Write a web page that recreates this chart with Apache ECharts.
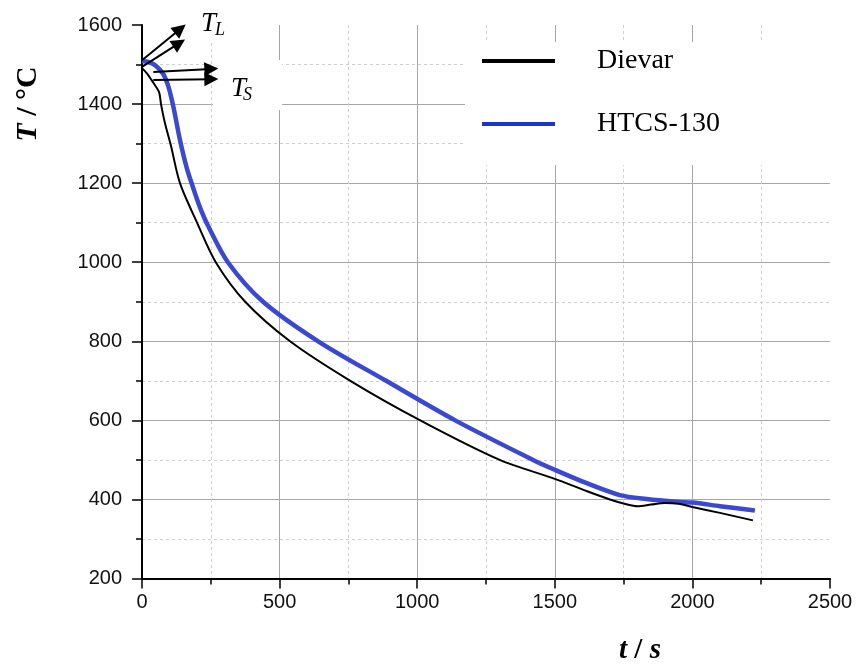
<!DOCTYPE html>
<html><head><meta charset="utf-8">
<script src="https://cdn.jsdelivr.net/npm/echarts@6/dist/echarts.min.js"></script>
<style>html,body{margin:0;padding:0;background:#fff}#c{width:860px;height:670px}</style>
</head><body><div id="c"></div>
<script>
// ---- data ----
const seriesNames = ['Dievar', 'HTCS-130'];
const dievarTime = [0, 20, 40, 62, 69, 84, 105, 138, 200, 268, 375, 538, 757, 1011, 1300, 1500, 1620, 1700, 1760, 1800, 1850, 1900, 1950, 2000, 2100, 2220];
const dievarTemp = [1491, 1476, 1455, 1430, 1400, 1350, 1295, 1200, 1100, 1000, 900, 800, 700, 600, 500, 452, 420, 400, 388, 383, 387, 391, 389, 381, 366, 347];
const htcsTime = [0, 25, 50, 77, 96, 114, 138, 162, 184, 210, 240, 312, 440, 640, 887, 1138, 1421, 1500, 1616, 1736, 1834, 1943, 2000, 2100, 2227];
const htcsTemp = [1509, 1506, 1497, 1476, 1444, 1393, 1309, 1240, 1192, 1140, 1092, 1000, 900, 800, 700, 600, 500, 475, 441, 411, 401, 394, 392, 383, 372];
const xRange = [0, 2500], xStep = 500;
const yRange = [200, 1600], yStep = 200;
// annotation arrows (data coordinates): T_L and T_S markers
const arrowsTL = [[[0, 1511], [139, 1590]], [[0, 1494], [135, 1554]]];
const arrowsTS = [[[41, 1481], [252, 1489]], [[41, 1461], [252, 1463]]];

const zip = (a, b) => a.map((v, i) => [v, b[i]]);
const chart = echarts.init(document.getElementById('c'));
const serif = '"Liberation Serif", "Times New Roman", serif';
const sans = '"Liberation Sans", Arial, sans-serif';

const axisCommon = {
  axisLine: { show: true, onZero: false, lineStyle: { color: '#000', width: 2 } },
  axisTick: { show: true, inside: false, length: 10, lineStyle: { color: '#000', width: 1.5 } },
  minorTick: { show: true, splitNumber: 2, length: 6, lineStyle: { color: '#000', width: 1.5 } },
  splitLine: { show: true, showMinLine: false, showMaxLine: false, lineStyle: { color: '#a6a6a6', width: 1 } },
  minorSplitLine: { show: true, lineStyle: { color: '#cfcfcf', width: 1, type: [3, 3] } },
  axisLabel: { fontFamily: sans, fontSize: 20, color: '#111', formatter: v => String(v) }
};

chart.setOption({
  animation: false,
  backgroundColor: '#fff',
  grid: { left: 142, right: 30, top: 25, bottom: 91.5 },
  xAxis: Object.assign({}, axisCommon, {
    type: 'value', min: xRange[0], max: xRange[1], interval: xStep,
    axisLabel: Object.assign({}, axisCommon.axisLabel, { margin: 14 })
  }),
  yAxis: Object.assign({}, axisCommon, {
    type: 'value', min: yRange[0], max: yRange[1], interval: yStep,
    axisLabel: Object.assign({}, axisCommon.axisLabel, { margin: 20 })
  }),
  legend: {
    orient: 'vertical', left: 465, top: 42,
    backgroundColor: '#fff',
    padding: [4, 120, 26, 17],
    itemWidth: 73, itemHeight: 4, itemGap: 33,
    icon: 'rect', selectedMode: false,
    textStyle: { fontFamily: serif, fontSize: 28, color: '#000', lineHeight: 30, padding: [0, 0, 0, 37] },
    data: [
      { name: seriesNames[0], itemStyle: { color: '#000' } },
      { name: seriesNames[1], itemStyle: { color: '#1a36cc' } }
    ]
  },
  graphic: [
    { type: 'rect', z: 1, silent: true, shape: { x: 213, y: 60, width: 69, height: 50 }, style: { fill: '#fff' } },
    { type: 'rect', z: 1, silent: true, shape: { x: 190, y: 0, width: 60, height: 43 }, style: { fill: '#fff' } },
    { type: 'text', z: 10, x: 201, y: 23.5, style: { text: 'T', font: 'italic 27px ' + serif, fill: '#000', align: 'left', verticalAlign: 'middle' } },
    { type: 'text', z: 10, x: 215, y: 30, style: { text: 'L', font: 'italic 18px ' + serif, fill: '#000', align: 'left', verticalAlign: 'middle' } },
    { type: 'text', z: 10, x: 231, y: 88.5, style: { text: 'T', font: 'italic 27px ' + serif, fill: '#000', align: 'left', verticalAlign: 'middle' } },
    { type: 'text', z: 10, x: 243, y: 95, style: { text: 'S', font: 'italic 18px ' + serif, fill: '#000', align: 'left', verticalAlign: 'middle' } },
    { type: 'text', z: 10, x: 28, y: 104, rotation: Math.PI / 2,
      style: { text: '{a|T}{b| / °C}', align: 'center', verticalAlign: 'middle', fill: '#000',
        rich: { a: { font: 'italic bold 30px ' + serif, fill: '#000' }, b: { font: 'bold 30px ' + serif, fill: '#000' } } } },
    { type: 'text', z: 10, x: 640, y: 651,
      style: { text: '{a|t}{b| / }{a|s}', align: 'center', verticalAlign: 'middle', fill: '#000',
        rich: { a: { font: 'italic bold 29px ' + serif, fill: '#000' }, b: { font: 'bold 29px ' + serif, fill: '#000' } } } }
  ],
  series: [
    {
      name: seriesNames[0], type: 'line', data: zip(dievarTime, dievarTemp),
      showSymbol: false, smooth: 0.3, z: 3,
      lineStyle: { color: '#000', width: 2 }, itemStyle: { color: '#000' },
      emphasis: { disabled: true },
      markLine: {
        silent: true, symbol: ['none', 'triangle'], symbolSize: 14,
        lineStyle: { color: '#000', width: 2, type: 'solid' },
        itemStyle: { color: '#000' },
        label: { show: false }, emphasis: { disabled: true },
        data: arrowsTL.concat(arrowsTS).map(a => [{ coord: a[0] }, { coord: a[1] }])
      }
    },
    {
      name: seriesNames[1], type: 'line', data: zip(htcsTime, htcsTemp),
      showSymbol: false, smooth: 0.3, z: 2,
      lineStyle: { color: '#3a48d2', width: 4.5 }, itemStyle: { color: '#3a48d2' },
      emphasis: { disabled: true }
    }
  ]
});
</script></body></html>
